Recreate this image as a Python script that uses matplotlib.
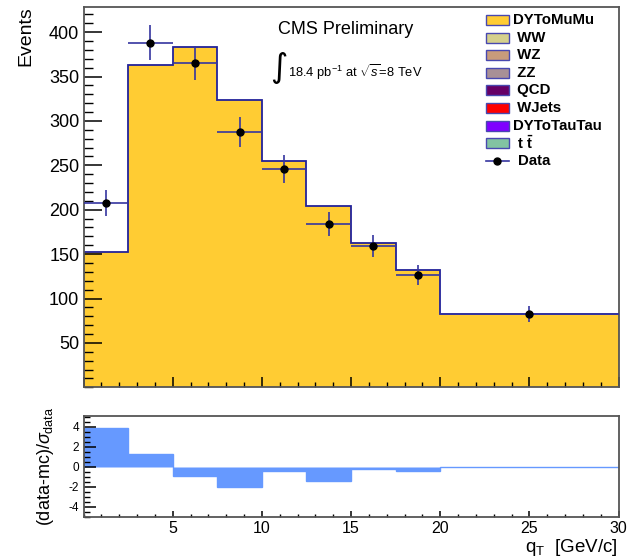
import numpy as np
import matplotlib
matplotlib.use("Agg")
import matplotlib.pyplot as plt
from matplotlib.patches import Rectangle
from matplotlib.lines import Line2D
from matplotlib.ticker import MultipleLocator, FixedLocator

plt.rcParams['font.family'] = ['Liberation Sans', 'DejaVu Sans']
plt.rcParams['mathtext.fontset'] = 'custom'
plt.rcParams['mathtext.rm'] = 'Liberation Sans'
plt.rcParams['mathtext.it'] = 'Liberation Sans:italic'
plt.rcParams['mathtext.bf'] = 'Liberation Sans:bold'
plt.rcParams['mathtext.sf'] = 'Liberation Sans'
plt.rcParams['axes.unicode_minus'] = False

# q_T binning [GeV/c]
bin_edges = [0, 2.5, 5, 7.5, 10, 12.5, 15, 17.5, 20, 30]
# stacked MC (only DY->mumu contributes visibly)
dy_mumu = [152, 363, 383, 323.5, 255, 204.5, 162, 132, 83]
# observed events and their uncertainties
data_counts = [207.5, 388, 365.5, 287.5, 246, 184, 159, 127, 83]
data_errors = [14.4, 19.7, 19.1, 17.0, 15.7, 13.6, 12.6, 11.3, 9.1]
# (data - mc) / sigma_data per bin
pull = [3.87, 1.23, -0.9, -2.03, -0.43, -1.38, -0.22, -0.38, 0.0]

legend_labels = ["DYToMuMu", " WW", " WZ", " ZZ", " QCD", " WJets",
                 "DYToTauTau", r" t $\mathbf{\bar{t}}$"]
legend_colors = ["#ffcc33", "#d5d08c", "#c89b7b", "#a89096", "#660066",
                 "#ff0000", "#7f00ff", "#82c3a2"]

W, H = 639, 559
def fx(px):
    return px / W
def fy(py):
    return 1 - py / H

yellow = "#ffcc33"
navy = "#22229a"
err_col = "#3535a0"
frame_col = "#555555"
pull_col = "#6699ff"

fig = plt.figure(figsize=(W / 100, H / 100), dpi=100)

ax = fig.add_axes([fx(83.5), fy(387.3), fx(618.5) - fx(83.5), fy(7.3) - fy(387.3)])
rax = fig.add_axes([fx(83.5), fy(516.7), fx(618.5) - fx(83.5), fy(415.7) - fy(516.7)])

edges = np.array(bin_edges, dtype=float)
centers = 0.5 * (edges[:-1] + edges[1:])
half_w = 0.5 * (edges[1:] - edges[:-1])

# --- main panel ---
ax.stairs(dy_mumu, edges, fill=True, facecolor=yellow, edgecolor="none", lw=0)
ax.stairs(dy_mumu, edges, baseline=None, color=navy, lw=1.3)
ax.errorbar(centers, data_counts, xerr=half_w, yerr=data_errors, fmt="o",
            color="black", ms=5, ecolor=err_col, elinewidth=1.2, capsize=0, zorder=5)

ax.set_xlim(0, 30)
ax.set_ylim(0, 428)
ax.yaxis.set_major_locator(FixedLocator([50, 100, 150, 200, 250, 300, 350, 400]))
ax.yaxis.set_minor_locator(MultipleLocator(10))
ax.xaxis.set_major_locator(MultipleLocator(5))
ax.xaxis.set_minor_locator(MultipleLocator(1))
ax.tick_params(axis="y", which="major", direction="in", length=13, width=1.1,
               labelsize=13, pad=3, right=False)
ax.tick_params(axis="y", which="minor", direction="in", length=6.5, width=1.0, right=False)
ax.tick_params(axis="x", which="major", direction="in", length=7.2, width=1.1,
               labelbottom=False, top=False)
ax.tick_params(axis="x", which="minor", direction="in", length=3.6, width=1.0, top=False)

for a in (ax, rax):
    for s in a.spines.values():
        s.set_color(frame_col)
        s.set_linewidth(1.3)

fig.text(fx(26), fy(6), "Events", rotation=90, ha="center", va="top", fontsize=14)

# header text
fig.text(fx(346), fy(30), "CMS Preliminary", ha="center", va="center", fontsize=13)
fig.text(fx(279), fy(68), "\u222b", ha="center", va="center", fontsize=24,
         family="DejaVu Sans")
fig.text(fx(288), fy(72), r"18.4 pb$^{-1}$ at $\sqrt{s}$=8 TeV", ha="left",
         va="center", fontsize=9.3)

# legend
leg_x0, leg_x1 = 485.7, 509.0
for i, (lab, col) in enumerate(zip(legend_labels, legend_colors)):
    yc = 20 + 17.6 * i
    fig.add_artist(Rectangle((fx(leg_x0), fy(yc + 5)), fx(leg_x1) - fx(leg_x0),
                             fy(yc - 5) - fy(yc + 5), transform=fig.transFigure,
                             facecolor=col, edgecolor="#4848b0", lw=1.0))
    fig.text(fx(513), fy(yc), lab, ha="left", va="center", fontsize=10.8,
             fontweight="bold")
yc = 20 + 17.6 * 8
fig.add_artist(Line2D([fx(leg_x0), fx(leg_x1)], [fy(yc), fy(yc)],
                      transform=fig.transFigure, color=err_col, lw=1.2))
fig.add_artist(Line2D([fx(0.5 * (leg_x0 + leg_x1))], [fy(yc)], transform=fig.transFigure,
                      marker="o", ms=5, color="black", lw=0))
fig.text(fx(518), fy(yc), "Data", ha="left", va="center", fontsize=10.8, fontweight="bold")

# --- pull panel ---
rax.stairs(pull, edges, fill=True, facecolor=pull_col, edgecolor=pull_col, lw=1.0)
rax.set_xlim(0, 30)
rax.set_ylim(-5.0, 5.1)
rax.yaxis.set_major_locator(FixedLocator([-4, -2, 0, 2, 4]))
rax.yaxis.set_minor_locator(MultipleLocator(0.5))
rax.xaxis.set_major_locator(FixedLocator([5, 10, 15, 20, 25, 30]))
rax.xaxis.set_minor_locator(MultipleLocator(1))
rax.tick_params(axis="y", which="major", direction="in", length=8.6, width=1.1,
                labelsize=8.5, pad=3, right=False)
rax.tick_params(axis="y", which="minor", direction="in", length=4.3, width=1.0, right=False)
rax.tick_params(axis="x", which="major", direction="in", length=4.2, width=1.1,
                labelsize=11.5, pad=3, top=False)
rax.tick_params(axis="x", which="minor", direction="in", length=2.5, width=1.0, top=False)

fig.text(fx(45), fy(466), r"(data-mc)/$\sigma_{\mathregular{data}}$", rotation=90,
         ha="center", va="center", fontsize=13)
fig.text(fx(618), fy(548), r"q$_{\mathregular{T}}$  [GeV/c]", ha="right", va="center",
         fontsize=13.5)

fig.savefig("out.png", dpi=100)
